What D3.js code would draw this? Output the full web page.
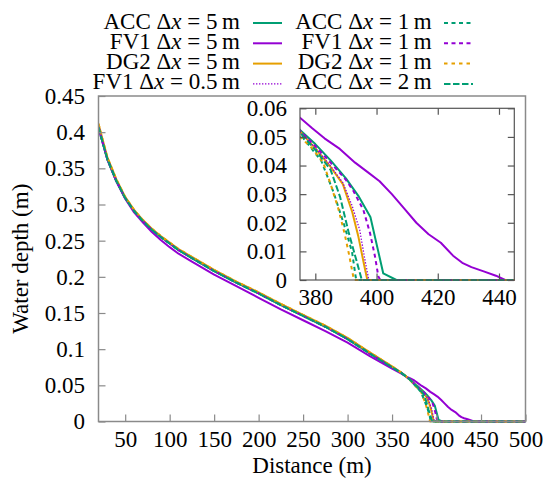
<!DOCTYPE html>
<html>
<head>
<meta charset="utf-8">
<script src="https://cdn.jsdelivr.net/npm/d3@7"></script>
<style>
  body { margin: 0; background: #fff; }
  svg { display: block; }
</style>
</head>
<body>
<svg id="chart" width="544" height="481"></svg>
<script>
// ---- Water-depth profiles: [distance (m), depth (m)] ----
const acc5 = [[20,0.406],[25,0.384],[30,0.362],[40,0.332],[50,0.309],[60,0.291],[70,0.277],[80,0.265],[90,0.255],[100,0.246],[110,0.237],[125,0.226],[150,0.208],[175,0.192],[200,0.177],[225,0.161],[250,0.146],[275,0.131],[300,0.114],[325,0.094],[350,0.075],[360,0.0675],[366,0.062],[370,0.058],
  [375,0.0524],[380,0.0475],[385,0.0418],[390,0.0355],[394,0.0295],[398,0.0220],[402.2,0.0023],[406.5,0],[500,0]];
const fv1_5 = [[20,0.406],[25,0.384],[30,0.362],[40,0.332],[50,0.308],[60,0.289],[70,0.275],[80,0.262],[90,0.251],[100,0.241],[110,0.232],[125,0.221],[150,0.203],[175,0.187],[200,0.171],[225,0.155],[250,0.140],[275,0.125],[300,0.109],[325,0.0905],[350,0.073],[360,0.0665],[366,0.062],[370,0.0598],
  [375,0.0567],[379,0.0530],[383,0.0495],[388,0.0458],[393,0.0410],[397,0.0378],[401,0.0345],[405,0.0300],[409,0.0250],[413,0.0200],[417,0.0160],[421,0.0130],[425,0.0085],[428,0.0060],[431,0.0045],[435,0.0030],[439,0.0015],[442,0],[500,0]];
const dg2_5 = [[20,0.4115],[25,0.388],[30,0.365],[40,0.335],[50,0.3105],[60,0.2925],[70,0.2785],[80,0.2665],[90,0.2565],[100,0.2475],[110,0.2385],[125,0.2275],[150,0.2095],[175,0.1935],[200,0.1785],[225,0.1625],[250,0.1475],[275,0.1325],[300,0.1155],[325,0.0955],[350,0.0762],[360,0.068],[366,0.0622],[370,0.0578],
  [375,0.0519],[380,0.046],[385,0.0395],[389,0.0335],[392,0.024],[394,0.0155],[396,0.005],[397,0],[500,0]];
const fv1_05 = [[20,0.408],[25,0.385],[30,0.363],[40,0.333],[50,0.309],[60,0.291],[70,0.277],[80,0.265],[90,0.255],[100,0.246],[110,0.237],[125,0.226],[150,0.208],[175,0.192],[200,0.177],[225,0.161],[250,0.146],[275,0.131],[300,0.114],[325,0.094],[350,0.075],[360,0.0675],[366,0.062],[370,0.058],
  [375,0.052],[380,0.0462],[385,0.0398],[389,0.034],[392,0.026],[394.5,0.0175],[396.3,0.0065],[397.5,0],[500,0]];
const acc1 = [[20,0.405],[25,0.384],[30,0.362],[40,0.333],[50,0.309],[60,0.291],[70,0.277],[80,0.265],[90,0.255],[100,0.246],[110,0.237],[125,0.226],[150,0.208],[175,0.192],[200,0.177],[225,0.161],[250,0.146],[275,0.131],[300,0.114],[325,0.094],[350,0.075],[360,0.0675],[366,0.062],[370,0.058],
  [375,0.051],[378,0.047],[382,0.0415],[386,0.0305],[389.5,0.019],[392,0.0098],[393.2,0.001],[393.5,0],[500,0]];
const fv1_1 = [[20,0.408],[25,0.385],[30,0.363],[40,0.333],[50,0.309],[60,0.291],[70,0.277],[80,0.265],[90,0.255],[100,0.246],[110,0.237],[125,0.226],[150,0.208],[175,0.192],[200,0.177],[225,0.161],[250,0.146],[275,0.131],[300,0.114],[325,0.094],[350,0.075],[360,0.0675],[366,0.062],[370,0.058],
  [375,0.0522],[380,0.0468],[385,0.041],[390,0.035],[392.5,0.031],[395.7,0.0245],[397.9,0.0163],[399.5,0.0082],[400.6,0.0012],[401.2,0],[500,0]];
const dg2_1 = [[20,0.4115],[25,0.388],[30,0.365],[40,0.335],[50,0.3105],[60,0.2925],[70,0.2785],[80,0.2665],[90,0.2565],[100,0.2475],[110,0.2385],[125,0.2275],[150,0.2095],[175,0.1935],[200,0.1785],[225,0.1625],[250,0.1475],[275,0.1325],[300,0.1155],[325,0.0955],[350,0.0762],[360,0.068],[366,0.0622],[370,0.0578],
  [375,0.050],[379,0.046],[382.6,0.041],[385,0.0335],[387.5,0.025],[389.5,0.0165],[391,0.009],[392.4,0.0012],[392.7,0],[500,0]];
const acc2 = [[20,0.407],[25,0.385],[30,0.363],[40,0.333],[50,0.309],[60,0.291],[70,0.277],[80,0.265],[90,0.255],[100,0.246],[110,0.237],[125,0.226],[150,0.208],[175,0.192],[200,0.177],[225,0.161],[250,0.146],[275,0.131],[300,0.114],[325,0.094],[350,0.075],[360,0.0675],[366,0.062],[370,0.058],
  [375,0.0515],[380,0.0455],[385,0.0385],[388.1,0.029],[390.8,0.017],[393,0.0085],[395.2,0],[500,0]];

// ---- Legend labels (scheme, grid spacing) ----
const schemes = ["ACC", "FV1", "DG2", "FV1", "ACC", "FV1", "DG2", "ACC"];
const spacings = ["5", "5", "5", "0.5", "1", "1", "1", "2"];

// ---- Tick values / labels ----
const xTicks = [50, 100, 150, 200, 250, 300, 350, 400, 450, 500];
const yTicks = [0, 0.05, 0.1, 0.15, 0.2, 0.25, 0.3, 0.35, 0.4, 0.45];
const yTickLabels = ["0", "0.05", "0.1", "0.15", "0.2", "0.25", "0.3", "0.35", "0.4", "0.45"];
const insetXTicks = [380, 400, 420, 440];
const insetYTicks = [0, 0.01, 0.02, 0.03, 0.04, 0.05, 0.06];
const insetYTickLabels = ["0", "0.01", "0.02", "0.03", "0.04", "0.05", "0.06"];

// ---- Styles ----
const GREEN = "#009e73", PURPLE = "#9400d3", ORANGE = "#e69f00";
const SERIF = "\"Liberation Serif\"";
const seriesList = [
  { data: acc5,   color: GREEN,  dash: null,      width: 2 },
  { data: fv1_5,  color: PURPLE, dash: null,      width: 2 },
  { data: dg2_5,  color: ORANGE, dash: null,      width: 2 },
  { data: fv1_05, color: PURPLE, dash: "1.4,1.6", width: 1.3 },
  { data: acc1,   color: GREEN,  dash: "4,3.5",   width: 2 },
  { data: fv1_1,  color: PURPLE, dash: "4,3.5",   width: 2 },
  { data: dg2_1,  color: ORANGE, dash: "3.5,4",   width: 2 },
  { data: acc2,   color: GREEN,  dash: "6.5,2.5", width: 2 }
];
seriesList.forEach((s, i) => { s.scheme = schemes[i]; s.dx = spacings[i]; });

const FONT = 23;
const svg = d3.select("#chart");

// ---- Main plot ----
const M = { left: 98.5, right: 525.5, top: 96, bottom: 421.5 };
const x = d3.scaleLinear().domain([20, 500]).range([M.left, M.right]);
const y = d3.scaleLinear().domain([0, 0.45]).range([M.bottom, M.top]);

svg.append("clipPath").attr("id", "clipMain")
  .append("rect").attr("x", M.left).attr("y", M.top - 2)
  .attr("width", M.right - M.left).attr("height", M.bottom - M.top + 4);

const line = (sx, sy) => d3.line().x(d => sx(d[0])).y(d => sy(d[1]));

const mainLines = svg.append("g").attr("clip-path", "url(#clipMain)");
seriesList.forEach(s => {
  mainLines.append("path")
    .attr("d", line(x, y)(s.data))
    .attr("fill", "none")
    .attr("stroke", s.color)
    .attr("stroke-width", s.width)
    .attr("stroke-dasharray", s.dash)
    .attr("stroke-linejoin", "round");
});

const serifText = sel => sel.attr("font-size", FONT).style("font-family", SERIF).attr("fill", "#000");

const styleAxis = (g, col) => {
  g.attr("font-family", null);
  g.select(".domain").remove();
  g.selectAll(".tick line").attr("stroke", col).attr("stroke-width", 1.2);
  g.selectAll(".tick text").call(serifText);
};

svg.append("g").attr("transform", `translate(0,${M.bottom})`)
  .call(d3.axisBottom(x).tickValues(xTicks).tickSizeInner(-7).tickSizeOuter(0).tickPadding(8.7))
  .call(g => styleAxis(g, "#8a8a8a"));

svg.append("g").attr("transform", `translate(${M.left},0)`)
  .call(d3.axisLeft(y).tickValues(yTicks).tickFormat((d, i) => yTickLabels[i])
        .tickSizeInner(-7).tickSizeOuter(0).tickPadding(13.5))
  .call(g => styleAxis(g, "#8a8a8a"));

svg.append("rect")
  .attr("x", M.left).attr("y", M.top)
  .attr("width", M.right - M.left).attr("height", M.bottom - M.top)
  .attr("fill", "none").attr("stroke", "#8a8a8a").attr("stroke-width", 1.5);

// Axis titles
svg.append("text").attr("x", (M.left + M.right) / 2).attr("y", 473)
  .attr("text-anchor", "middle").call(serifText).text("Distance (m)");
svg.append("text").attr("transform", `translate(28,${(M.top + M.bottom) / 2}) rotate(-90)`)
  .attr("text-anchor", "middle").call(serifText).text("Water depth (m)");

// ---- Inset: wetting front close-up ----
const I = { left: 300, right: 514.3, top: 108.3, bottom: 280 };
const xi = d3.scaleLinear().domain([375, 445]).range([I.left, I.right]);
const yi = d3.scaleLinear().domain([0, 0.06]).range([I.bottom, I.top]);

svg.append("rect").attr("x", I.left).attr("y", I.top)
  .attr("width", I.right - I.left).attr("height", I.bottom - I.top).attr("fill", "#fff");

svg.append("clipPath").attr("id", "clipInset")
  .append("rect").attr("x", I.left).attr("y", I.top)
  .attr("width", I.right - I.left).attr("height", I.bottom - I.top + 2);

const insetLines = svg.append("g").attr("clip-path", "url(#clipInset)");
seriesList.forEach(s => {
  insetLines.append("path")
    .attr("d", line(xi, yi)(s.data))
    .attr("fill", "none")
    .attr("stroke", s.color)
    .attr("stroke-width", s.width)
    .attr("stroke-dasharray", s.dash)
    .attr("stroke-linejoin", "round");
});

const insetCol = "#555";
svg.append("g").attr("transform", `translate(0,${I.bottom})`)
  .call(d3.axisBottom(xi).tickValues(insetXTicks).tickSizeInner(-6.5).tickSizeOuter(0).tickPadding(8.7))
  .call(g => styleAxis(g, insetCol));
svg.append("g").attr("transform", `translate(0,${I.top})`)
  .call(d3.axisTop(xi).tickValues(insetXTicks).tickSizeInner(-6.5).tickSizeOuter(0).tickFormat(""))
  .call(g => styleAxis(g, insetCol));
svg.append("g").attr("transform", `translate(${I.left},0)`)
  .call(d3.axisLeft(yi).tickValues(insetYTicks).tickFormat((d, i) => insetYTickLabels[i])
        .tickSizeInner(-6.5).tickSizeOuter(0).tickPadding(13))
  .call(g => styleAxis(g, insetCol));
svg.append("g").attr("transform", `translate(${I.right},0)`)
  .call(d3.axisRight(yi).tickValues(insetYTicks).tickSizeInner(-6.5).tickSizeOuter(0).tickFormat(""))
  .call(g => styleAxis(g, insetCol));

svg.append("rect")
  .attr("x", I.left).attr("y", I.top)
  .attr("width", I.right - I.left).attr("height", I.bottom - I.top)
  .attr("fill", "none").attr("stroke", insetCol).attr("stroke-width", 1.2);

// ---- Legend: 4 rows x 2 columns ----
const legendCols = [
  { textEnd: 240, x1: 253, x2: 282 },
  { textEnd: 431.7, x1: 444, x2: 473 }
];
const rowBase = 28.5, rowStep = 20.3;
seriesList.forEach((s, i) => {
  const col = legendCols[Math.floor(i / 4)];
  const yb = rowBase + (i % 4) * rowStep;
  const t = svg.append("text").attr("x", col.textEnd).attr("y", yb)
    .attr("text-anchor", "end").call(serifText);
  t.append("tspan").text(`${s.scheme} Δ`);
  t.append("tspan").attr("font-style", "italic").text("x");
  t.append("tspan").text(` = ${s.dx}\u2009m`);
  svg.append("line")
    .attr("x1", col.x1).attr("x2", col.x2)
    .attr("y1", yb - 5.5).attr("y2", yb - 5.5)
    .attr("stroke", s.color).attr("stroke-width", s.width)
    .attr("stroke-dasharray", s.dash);
});
</script>
</body>
</html>
